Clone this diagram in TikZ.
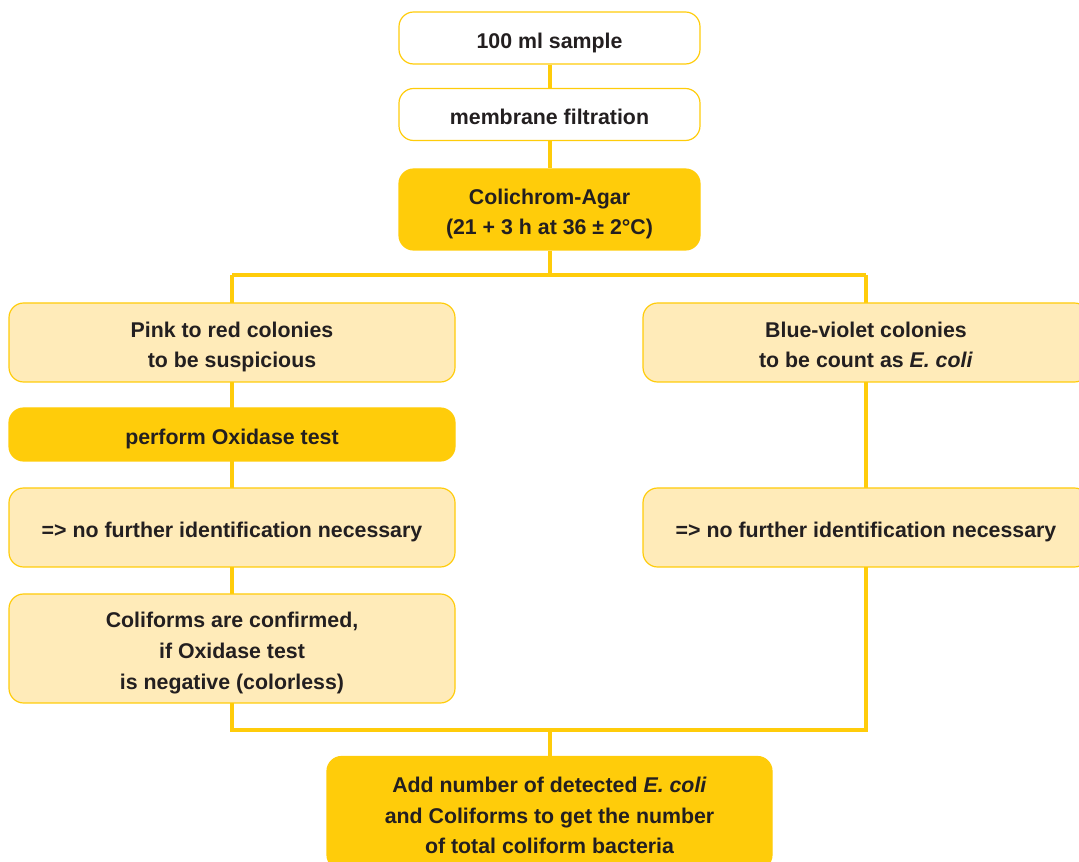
\documentclass[tikz,border=0pt]{standalone}
\usepackage{fontspec}
\setmainfont{Liberation Sans}
\usepackage{xcolor}
\usepackage{tikz}
\usetikzlibrary{positioning, backgrounds}

\definecolor{gold}{RGB}{255,204,10}
\definecolor{pale}{RGB}{255,235,185}
\definecolor{ink}{RGB}{35,31,32}

% centred block of lines, set a little low in its box
\newcommand{\boxlines}[1]{\raisebox{-3pt}[\height][\depth]{\begin{tabular}{@{}c@{}}#1\end{tabular}}}

\begin{document}
\begin{tikzpicture}[
  x=0.75pt, y=-0.75pt,
  box/.style={rectangle, rounded corners=11pt, draw=gold, line width=0.9pt,
    text=ink, inner sep=2pt,
    font=\fontsize{16}{23}\selectfont\bfseries},
  whitebox/.style={box, fill=white, minimum width=225.75pt, minimum height=39pt},
  goldbox/.style={box, fill=gold},
  palebox/.style={box, fill=pale, minimum width=334.5pt},
  link/.style={draw=gold, line width=3pt}
]
\useasboundingbox (0,0) rectangle (1079,862);

% top of the chain
\node [whitebox] (sample) at (549.5,38) {\boxlines{100 ml sample}};
\node [whitebox] (filtration) at (549.5,114.5) {\boxlines{membrane filtration}};
\node [goldbox, minimum width=225.75pt, minimum height=60.75pt] (agar) at (549.5,209.5)
  {\boxlines{Colichrom-Agar\\(21 + 3 h at 36 ± 2°C)}};

% left branch
\node [palebox, minimum height=59.25pt] (pink) at (232,342.5)
  {\boxlines{Pink to red colonies\\to be suspicious}};
\node [goldbox, minimum width=334.5pt, minimum height=39.75pt] (oxidase) at (232,434.5)
  {\boxlines{perform Oxidase test}};
\node [palebox, minimum height=59.25pt] (leftnote) at (232,527.5)
  {\boxlines{=> no further identification necessary}};
\node [palebox, minimum height=81.75pt] (coliforms) at (232,648.5)
  {\boxlines{Coliforms are confirmed,\\if Oxidase test\\is negative (colorless)}};

% right branch
\node [palebox, minimum height=59.25pt] (blue) at (866,342.5)
  {\boxlines{Blue-violet colonies\\to be count as \textit{E. coli}}};
\node [palebox, minimum height=59.25pt] (rightnote) at (866,527.5)
  {\boxlines{=> no further identification necessary}};

% result
\node [goldbox, minimum width=333.75pt, minimum height=84.75pt] (total) at (549.5,813)
  {\boxlines{Add number of detected \textit{E. coli}\\and Coliforms to get the number\\of total coliform bacteria}};

\coordinate (split) at (549.5,275);
\coordinate (join) at (549.5,730);

\begin{scope}[on background layer]
  \draw[link] (sample) -- (filtration) -- (agar) -- (split);
  \draw[link] (pink |- split) -- (blue |- split);
  \draw[link] (pink |- split) -- (pink |- join) -- (blue |- join) -- (blue |- split);
  \draw[link] (join) -- (total);
\end{scope}
\end{tikzpicture}
\end{document}
